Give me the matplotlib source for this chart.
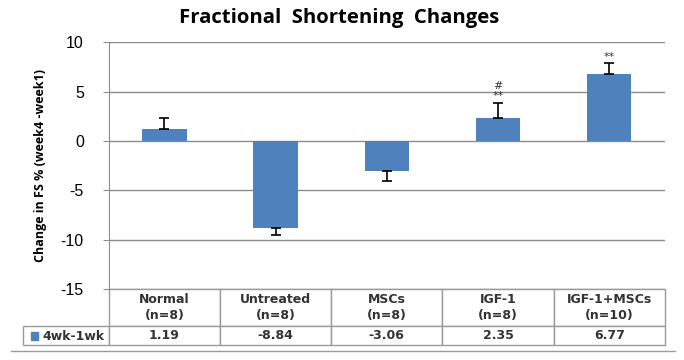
import matplotlib.pyplot as plt
from matplotlib.patches import Rectangle

plt.rcParams['axes.unicode_minus'] = False

groups = ['Normal\n(n=8)', 'Untreated\n(n=8)', 'MSCs\n(n=8)', 'IGF-1\n(n=8)', 'IGF-1+MSCs\n(n=10)']
values = [1.19, -8.84, -3.06, 2.35, 6.77]
errors = [1.15, 0.7, 0.95, 1.5, 1.1]
series_name = '4wk-1wk'
# significance marks: (group index, y, text)
marks = [(3, 5.6, '#'), (3, 4.5, '**'), (4, 8.5, '**')]

blue = '#4F81BD'
grid_c = '#8c8c8c'

fig = plt.figure(figsize=(6.84, 3.6), dpi=100)
ax = fig.add_axes([0.159, 0.197, 0.813, 0.686])

x = list(range(len(values)))
for i, v in enumerate(values):
    if v >= 0:
        yerr = [[0], [errors[i]]]
    else:
        yerr = [[errors[i]], [0]]
    ax.bar(x[i], v, width=0.4, color=blue, zorder=3,
           yerr=yerr, capsize=3.5, error_kw=dict(ecolor='black', elinewidth=1.2, capthick=1.2, zorder=4))

for gi, yy, t in marks:
    ax.text(x[gi], yy, t, ha='center', va='center', fontsize=8, color='#333333')

ax.set_xlim(-0.5, len(values) - 0.5)
ax.set_ylim(-15, 10)
ax.set_yticks([-15, -10, -5, 0, 5, 10])
ax.yaxis.grid(True, color=grid_c, linewidth=1)
ax.set_axisbelow(True)
ax.set_xticks([])
for s in ['top', 'right', 'bottom']:
    ax.spines[s].set_visible(False)
ax.spines['left'].set_color(grid_c)
ax.tick_params(axis='y', length=4, color=grid_c, labelsize=11.5, pad=14)
for lab in ax.get_yticklabels():
    lab.set_fontfamily('Liberation Sans')
ax.set_ylabel('Change in FS % (week4 -week1)', fontsize=9, fontweight='bold',
              fontfamily='Open Sans', labelpad=10)
fig.text(0.496, 0.951, 'Fractional  Shortening  Changes', ha='center', va='center',
         fontsize=14.6, fontweight='bold', fontfamily='Open Sans')

# data table under the chart
lab_w = 0.154
tbl = ax.table(cellText=[[''] + ['%.2f' % v for v in values]],
               colLabels=[''] + groups,
               colWidths=[lab_w] + [0.2] * len(values),
               cellLoc='center',
               bbox=[-lab_w, -0.227, 1 + lab_w, 0.227])
tbl.auto_set_font_size(False)
for (r, c), cell in tbl.get_celld().items():
    cell.set_edgecolor('#9a9a9a')
    cell.set_linewidth(1)
    cell.get_text().set_fontsize(9)
    cell.get_text().set_fontweight('bold')
    cell.get_text().set_color('#333333')
    cell.get_text().set_linespacing(1.3)
    cell.set_height(0.15 if r == 0 else 0.077)
    if r == 0 and c == 0:
        cell.visible_edges = ''

# legend key in the row label cell
ax.add_patch(Rectangle((-0.14, -0.207), 0.012, 0.034, transform=ax.transAxes,
                       color=blue, clip_on=False))
ax.text(-0.12, -0.19, series_name, transform=ax.transAxes, ha='left', va='center',
        fontsize=9, fontweight='bold', color='#333333')

# bottom border line
fig.add_artist(plt.Line2D([0.016, 0.987], [0.025, 0.025], color='#9a9a9a', linewidth=1))

fig.savefig('out.png', dpi=100)
